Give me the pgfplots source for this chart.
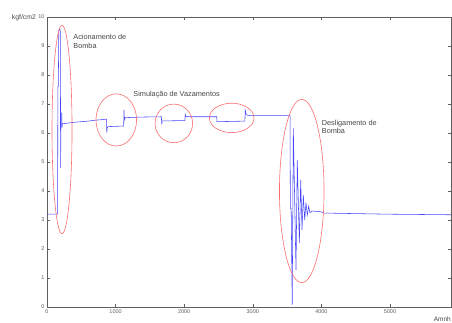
\documentclass[border=0pt]{standalone}
\usepackage{fontspec}
\setmainfont{Liberation Sans}
\usepackage{pgfplots}
\pgfplotsset{compat=1.18}
\definecolor{curve}{RGB}{70,70,250}
\definecolor{ell}{RGB}{250,110,110}
\definecolor{axgray}{RGB}{95,95,95}
\definecolor{txtgray}{RGB}{70,70,70}
\begin{document}
\begin{tikzpicture}
\useasboundingbox (-47pt,-16pt) rectangle (405pt,307pt);
\begin{axis}[
  at={(0,0)}, anchor=south west,
  scale only axis, width=404pt, height=290pt,
  xmin=0, xmax=5890, ymin=0, ymax=10,
  xtick={0,1000,2000,3000,4000,5000}, ytick={0,1,...,10},
  tick align=inside, major tick length=3pt,
  axis line style={axgray, line width=0.5pt},
  tick style={axgray, line width=0.5pt},
  ticklabel style={font=\fontsize{5.5}{6}\selectfont, text=axgray},
  /pgf/number format/assume math mode=true,
  /pgf/number format/set thousands separator={},
  scaled x ticks=false,
  xticklabel style={yshift=1pt},
  yticklabel style={xshift=1pt},
  clip=false,
]
\addplot[curve, line width=0.55pt] coordinates {
(0,3.2)(155,3.2)(158,7.6)(165,7.6)(172,9.55)(185,9.6)(195,9.5)(198,4.8)(203,6.2)(212,6.2)(215,6.7)(219,6.2)(226,6.32)
(300,6.34)(400,6.37)(500,6.39)(600,6.41)(700,6.44)(800,6.46)(868,6.48)(872,6.0)(878,6.18)(890,6.22)(1000,6.23)(1118,6.24)
(1122,6.8)(1128,6.45)(1140,6.53)(1400,6.55)(1668,6.56)(1672,6.3)(1680,6.42)(1800,6.42)(2010,6.43)(2015,6.64)(2030,6.56)
(2474,6.56)(2478,6.39)(2700,6.4)(2885,6.41)(2890,6.79)(2905,6.63)(2950,6.6)(3543,6.6)(3548,3.4)(3560,3.4)(3575,0.07)
(3591,6.16)(3630,1.28)(3649,5.07)(3679,2.2)(3699,4.38)(3718,2.66)(3737,3.86)(3757,3.0)(3776,3.6)(3795,3.17)(3815,3.48)
(3834,3.25)(3864,3.31)(4000,3.28)(4030,3.24)(4500,3.22)(5000,3.2)(5890,3.18)
};
\draw[ell, line width=0.6pt] (axis cs:219,6.12) ellipse [x radius=146, y radius=3.59];
\draw[ell, line width=0.6pt] (axis cs:1010,6.45) ellipse [x radius=296, y radius=0.90];
\draw[ell, line width=0.6pt] (axis cs:1849,6.33) ellipse [x radius=274, y radius=0.666];
\draw[ell, line width=0.6pt] (axis cs:2693,6.52) ellipse [x radius=325, y radius=0.507];
\draw[ell, line width=0.6pt] (axis cs:3714,4.0) ellipse [x radius=325, y radius=3.16];
\node[anchor=base west, inner sep=0pt, font=\fontsize{7.3}{8}\selectfont, text=txtgray] at (axis cs:383,9.22) {Acionamento de};
\node[anchor=base west, inner sep=0pt, font=\fontsize{7.3}{8}\selectfont, text=txtgray] at (axis cs:383,8.92) {Bomba};
\node[anchor=base west, inner sep=0pt, font=\fontsize{7.3}{8}\selectfont, text=txtgray] at (axis cs:1258,7.26) {Simulação de Vazamentos};
\node[anchor=base west, inner sep=0pt, font=\fontsize{7.3}{8}\selectfont, text=txtgray] at (axis cs:4005,6.27) {Desligamento de};
\node[anchor=base west, inner sep=0pt, font=\fontsize{7.3}{8}\selectfont, text=txtgray] at (axis cs:4005,5.97) {Bomba};
\node[anchor=base east, inner sep=0pt, font=\fontsize{6.8}{7}\selectfont, text=txtgray] at ([xshift=-11pt, yshift=-3pt]rel axis cs:0,1) {kgf/cm2};
\node[anchor=base east, inner sep=0pt, font=\fontsize{6.5}{7}\selectfont, text=txtgray] at ([xshift=0pt, yshift=-14.5pt]rel axis cs:1,0) {Amnh};
\end{axis}
\end{tikzpicture}
\end{document}
